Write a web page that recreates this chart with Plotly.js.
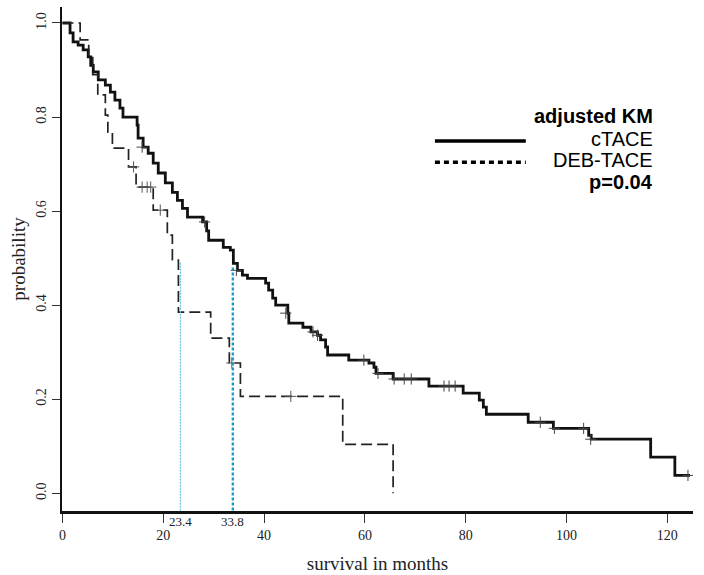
<!DOCTYPE html>
<html>
<head>
<meta charset="utf-8">
<script src="https://cdn.plot.ly/plotly-3.0.1.min.js"></script>
<style>html,body{margin:0;padding:0;background:#fff;}#chart{width:704px;height:575px;}</style>
</head>
<body>
<div id="chart"></div>
<script>
// ---- data ----
const seriesNames = ['cTACE', 'DEB-TACE'];

const ctaceTime = [0, 1.5, 2.1, 3.1, 4.1, 5.1, 5.6, 6.1, 7.1, 8.5, 9.5, 10.4, 11.4, 12.0, 14.8, 15.0, 16.0, 17.0, 18.0, 19.0, 20.4, 21.8, 22.8, 23.8, 24.8, 27.8, 28.6, 29.0, 31.9, 33.3, 33.9, 34.7, 35.7, 36.7, 40.3, 40.9, 41.7, 42.3, 44.7, 44.9, 47.7, 49.3, 50.6, 51.2, 52.2, 52.6, 56.8, 60.8, 61.8, 62.2, 65.6, 72.7, 79.5, 82.7, 83.5, 84.1, 92.4, 97.4, 104.4, 104.9, 116.7, 121.5, 124.5];
const ctaceSurv = [1.0, 0.979, 0.960, 0.953, 0.943, 0.928, 0.910, 0.896, 0.879, 0.868, 0.853, 0.836, 0.819, 0.800, 0.783, 0.755, 0.736, 0.723, 0.702, 0.681, 0.660, 0.640, 0.623, 0.606, 0.587, 0.577, 0.558, 0.538, 0.523, 0.517, 0.489, 0.474, 0.464, 0.457, 0.447, 0.432, 0.415, 0.400, 0.383, 0.362, 0.353, 0.343, 0.336, 0.326, 0.311, 0.294, 0.283, 0.277, 0.268, 0.255, 0.243, 0.228, 0.213, 0.198, 0.183, 0.168, 0.151, 0.138, 0.123, 0.115, 0.077, 0.038, 0.038];
const ctaceCensorTime = [15.8, 28.2, 34.5, 44.3, 49.7, 50.6, 59.8, 62.6, 65.8, 67.8, 69.2, 75.7, 76.7, 77.9, 94.8, 97.6, 103.4, 104.8, 124.1];
const ctaceCensorSurv = [0.736, 0.577, 0.474, 0.383, 0.343, 0.336, 0.283, 0.255, 0.243, 0.243, 0.243, 0.228, 0.228, 0.228, 0.151, 0.138, 0.138, 0.115, 0.038];

const debTime = [0, 3.5, 5.2, 6.0, 7.0, 8.5, 9.0, 9.9, 13.1, 14.6, 18.0, 20.8, 21.8, 23.0, 29.4, 33.1, 35.3, 55.6, 65.6];
const debSurv = [1.0, 0.964, 0.930, 0.890, 0.847, 0.804, 0.768, 0.734, 0.694, 0.651, 0.602, 0.549, 0.496, 0.385, 0.330, 0.277, 0.206, 0.104, 0.0];
const debCensorTime = [14.1, 15.8, 16.8, 17.5, 19.4, 33.6, 45.3];
const debCensorSurv = [0.694, 0.651, 0.651, 0.651, 0.602, 0.277, 0.206];

const medianTime = [23.4, 33.8];
const medianTop = [0.49, 0.48];

const xTickVals = [0, 20, 40, 60, 80, 100, 120];
const yTickVals = [0.0, 0.2, 0.4, 0.6, 0.8, 1.0];
const legendTitle = 'adjusted KM';
const pText = 'p=0.04';

// ---- chart ----
const xRange = [-0.1, 125.1];
const yRange = [-0.0377, 1.034];
const serif = 'Liberation Serif, Times New Roman, serif';
const sans = 'Liberation Sans, Arial, sans-serif';

const traces = [
  {x: ctaceTime, y: ctaceSurv, mode: 'lines', line: {shape: 'hv', color: '#111', width: 2.8}, name: seriesNames[0], hoverinfo: 'skip'},
  {x: debTime, y: debSurv, mode: 'lines', line: {shape: 'hv', color: '#222', width: 1.7, dash: '11px,5px'}, name: seriesNames[1], hoverinfo: 'skip'},
  {x: ctaceCensorTime, y: ctaceCensorSurv, mode: 'markers', marker: {symbol: 'cross-thin', size: 8, color: '#444', line: {color: '#444', width: 1}}, hoverinfo: 'skip'},
  {x: debCensorTime, y: debCensorSurv, mode: 'markers', marker: {symbol: 'cross-thin', size: 8, color: '#555', line: {color: '#555', width: 1}}, hoverinfo: 'skip'},
  {x: [medianTime[0], medianTime[0]], y: [medianTop[0], yRange[0]], mode: 'lines', line: {color: '#6cc4e4', width: 1.2, dash: '2px,1px'}, hoverinfo: 'skip'},
  {x: [medianTime[1], medianTime[1]], y: [medianTop[1], yRange[0]], mode: 'lines', line: {color: '#1d9cc8', width: 2.4, dash: '3px,2px'}, hoverinfo: 'skip'}
];

const annotations = medianTime.map(t => ({
  x: t, xref: 'x', y: 0, yref: 'paper', yanchor: 'top', xanchor: 'center', yshift: -1,
  text: String(t), showarrow: false, font: {family: serif, size: 13, color: '#222'}
}));
annotations.push(
  {x: 0.94, y: 0.784, xref: 'paper', yref: 'paper', xanchor: 'right', yanchor: 'middle', showarrow: false, text: '<b>' + legendTitle + '</b>', font: {family: sans, size: 20, color: '#000'}},
  {x: 0.94, y: 0.739, xref: 'paper', yref: 'paper', xanchor: 'right', yanchor: 'middle', showarrow: false, text: seriesNames[0], font: {family: sans, size: 20, color: '#000'}},
  {x: 0.94, y: 0.696, xref: 'paper', yref: 'paper', xanchor: 'right', yanchor: 'middle', showarrow: false, text: seriesNames[1], font: {family: sans, size: 20, color: '#000'}},
  {x: 0.94, y: 0.653, xref: 'paper', yref: 'paper', xanchor: 'right', yanchor: 'middle', showarrow: false, text: '<b>' + pText + '</b>', font: {family: sans, size: 20, color: '#000'}}
);

const shapes = [
  {type: 'line', xref: 'paper', yref: 'paper', x0: 0.591, x1: 0.735, y0: 0.734, y1: 0.734, line: {color: '#000', width: 3.5}},
  {type: 'line', xref: 'paper', yref: 'paper', x0: 0.591, x1: 0.735, y0: 0.692, y1: 0.692, line: {color: '#000', width: 3.5, dash: '5px,4px'}}
];

const layout = {
  width: 704, height: 575,
  margin: {l: 62, r: 11, t: 7, b: 64},
  paper_bgcolor: '#fff', plot_bgcolor: '#fff',
  showlegend: false,
  xaxis: {
    range: xRange, tickvals: xTickVals, ticks: 'outside', ticklen: 9, tickwidth: 1, tickcolor: '#333',
    showline: true, linewidth: 2.7, linecolor: '#111', showgrid: false, zeroline: false,
    tickfont: {family: serif, size: 14, color: '#222'},
    title: {text: 'survival in months', font: {family: serif, size: 19, color: '#222'}, standoff: 16},
    automargin: false
  },
  yaxis: {
    range: yRange, tickvals: yTickVals, tickformat: '.1f', ticks: 'outside', ticklen: 8, tickwidth: 1, tickcolor: '#333',
    tickangle: -90,
    showline: true, linewidth: 2, linecolor: '#111', showgrid: false, zeroline: false,
    tickfont: {family: serif, size: 14, color: '#222'},
    title: {text: 'probability', font: {family: serif, size: 19, color: '#222'}, standoff: 4},
    automargin: false
  },
  shapes: shapes,
  annotations: annotations
};

Plotly.newPlot('chart', traces, layout, {displayModeBar: false, staticPlot: true});
</script>
</body>
</html>
